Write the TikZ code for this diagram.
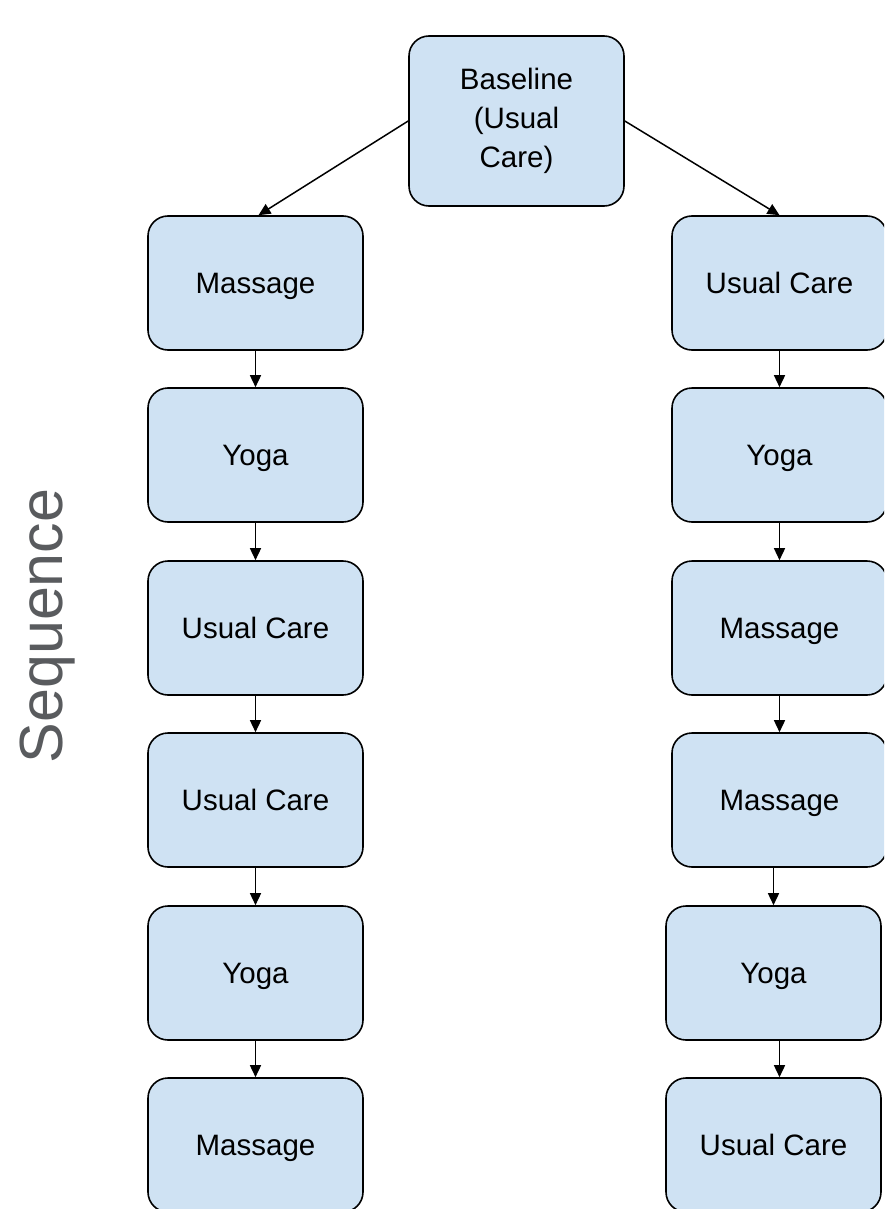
\documentclass[tikz,border=0pt]{standalone}
\usepackage{fontspec}
\setmainfont{Liberation Sans}
\usetikzlibrary{arrows.meta}
\definecolor{boxfill}{HTML}{CFE2F3}
\definecolor{seqgray}{HTML}{595B5E}
\begin{document}
\begin{tikzpicture}[x=1pt,y=-1pt,
  basebox/.style={rectangle, rounded corners=20pt, draw=black, line width=1.6pt,
    fill=boxfill, minimum width=215pt, minimum height=134pt, inner sep=0pt,
    align=center, font=\fontsize{29.5}{39}\selectfont},
  stagebox/.style={basebox, text height=22pt, text depth=2pt},
  flow/.style={line width=1.5pt, -{Triangle[length=12pt,width=11pt]}}]
\useasboundingbox (0,0) rectangle (884,1209);
\clip (0,0) rectangle (884,1209);

% starting point
\node[basebox, minimum height=170pt] (top) at (516.5,121) {Baseline\\(Usual\\Care)};

% left sequence
\node[stagebox] (l1) at (255.5,283)  {Massage};
\node[stagebox] (l2) at (255.5,455)  {Yoga};
\node[stagebox] (l3) at (255.5,628)  {Usual Care};
\node[stagebox] (l4) at (255.5,800)  {Usual Care};
\node[stagebox] (l5) at (255.5,973)  {Yoga};
\node[stagebox] (l6) at (255.5,1145) {Massage};

% right sequence
\node[stagebox] (r1) at (779.5,283)  {Usual Care};
\node[stagebox] (r2) at (779.5,455)  {Yoga};
\node[stagebox] (r3) at (779.5,628)  {Massage};
\node[stagebox] (r4) at (779.5,800)  {Massage};
\node[stagebox] (r5) at (773.5,973)  {Yoga};
\node[stagebox] (r6) at (773.5,1145) {Usual Care};

% axis label
\node[rotate=90, anchor=base, inner sep=0pt, text=seqgray,
  font=\fontsize{61}{61}\selectfont] (seq) at (62,626) {Sequence};

% branches
\draw[flow] (top.west) -- ([xshift=3pt]l1.north);
\draw[flow] (top.east) -- (r1.north);

% left chain
\draw[flow] (l1.south) -- (l2.north);
\draw[flow] (l2.south) -- (l3.north);
\draw[flow] (l3.south) -- (l4.north);
\draw[flow] (l4.south) -- (l5.north);
\draw[flow] (l5.south) -- (l6.north);

% right chain
\draw[flow] (r1.south) -- (r2.north);
\draw[flow] (r2.south) -- (r3.north);
\draw[flow] (r3.south) -- (r4.north);
\draw[flow] (r4.south -| r5.north) -- (r5.north);
\draw[flow] (r5.south -| r4.south) -- (r6.north -| r4.south);
\end{tikzpicture}
\end{document}
